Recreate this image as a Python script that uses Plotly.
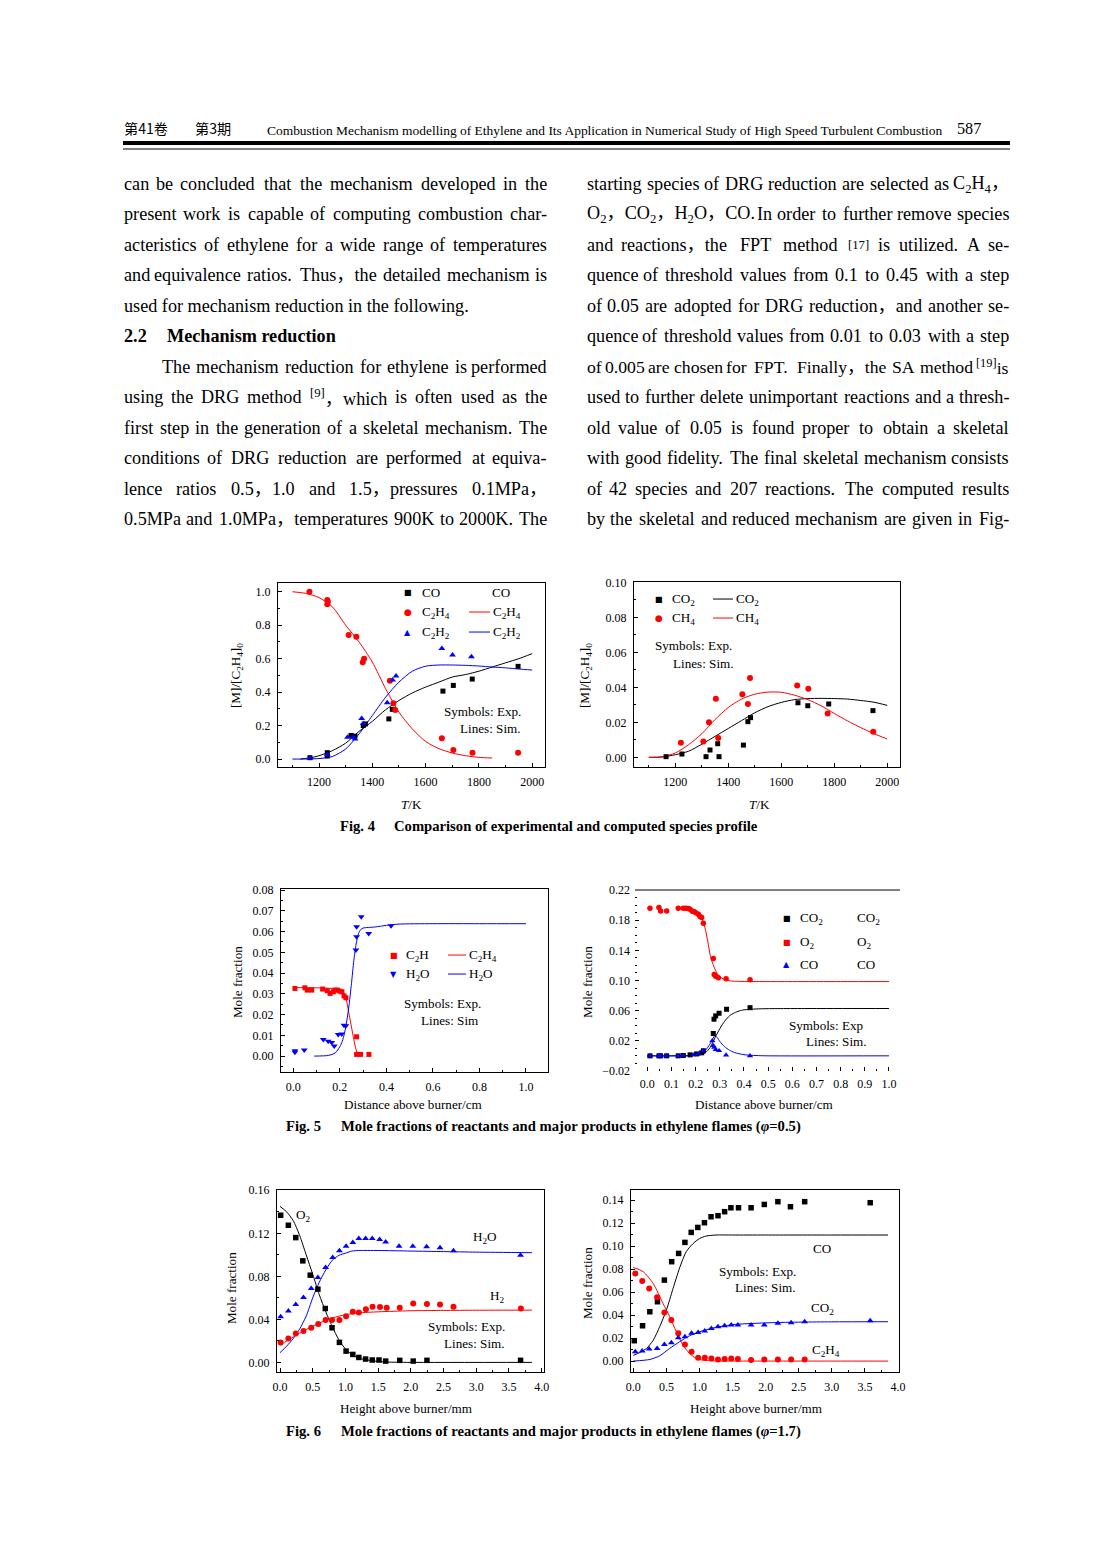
import re
import plotly.graph_objects as go

PW, PH = 1102, 1546          # page (window) size
OX, OY = 8, 8                # browser body margin
FW, FH = PW - 2 * OX, PH - 2 * OY
# measured mapping of page position -> photographed position (obs = A + B * page)
AX, BX = 5.08, 0.9899
AY, BY = 7.07, 0.9908
FS = 1 / BX
SERIF = "Liberation Serif, Noto Sans CJK SC, Times New Roman, serif"
CJK = "Noto Sans CJK SC"
SYM = "DejaVu Sans"
RED, BLUE, BLACK = "#ff0000", "#0000ff", "#000000"

# ---------------- Fig.4 left: [M]/[C2H4]0 vs T ----------------
p1_co_T = [1166, 1231, 1231, 1320, 1335, 1366, 1374, 1462, 1475, 1665, 1704, 1775, 1947]
p1_co_v = [0.008, 0.038, 0.018, 0.141, 0.137, 0.20, 0.21, 0.24, 0.297, 0.406, 0.44, 0.478, 0.554]
p1_c2h4_T = [1164, 1231, 1233, 1231, 1311, 1340, 1364, 1369, 1466, 1479, 1486, 1661, 1704, 1776, 1947]
p1_c2h4_v = [1.0, 0.95, 0.94, 0.925, 0.741, 0.731, 0.578, 0.60, 0.468, 0.333, 0.293, 0.124, 0.054, 0.038, 0.038]
p1_c2h2_T = [1166, 1231, 1307, 1329, 1335, 1360, 1366, 1456, 1476, 1489, 1661, 1701, 1772]
p1_c2h2_v = [0.008, 0.025, 0.13, 0.13, 0.12, 0.243, 0.213, 0.337, 0.472, 0.496, 0.661, 0.622, 0.612]
p1_co_sim_T = [1130, 1170, 1200, 1250, 1300, 1350, 1400, 1450, 1500, 1550, 1600, 1650, 1700, 1750, 1800, 1850, 1900, 1950, 2000]
p1_co_sim = [0.0, 0.008, 0.02, 0.05, 0.095, 0.165, 0.225, 0.295, 0.35, 0.395, 0.43, 0.46, 0.49, 0.505, 0.525, 0.55, 0.575, 0.60, 0.63]
p1_c2h4_sim_T = [1100, 1150, 1200, 1250, 1300, 1350, 1400, 1450, 1500, 1550, 1600, 1650, 1700, 1750, 1800, 1850]
p1_c2h4_sim = [1.0, 0.99, 0.965, 0.91, 0.80, 0.70, 0.58, 0.42, 0.28, 0.18, 0.105, 0.062, 0.036, 0.02, 0.01, 0.006]
p1_c2h2_sim_T = [1100, 1150, 1200, 1250, 1300, 1350, 1400, 1450, 1500, 1550, 1600, 1650, 1700, 1750, 1800, 1850, 1900, 1950, 2000]
p1_c2h2_sim = [0.0, 0.0, 0.003, 0.015, 0.06, 0.15, 0.26, 0.37, 0.46, 0.525, 0.555, 0.562, 0.562, 0.56, 0.556, 0.55, 0.545, 0.538, 0.532]

# ---------------- Fig.4 right ----------------
p2_co2_T = [1165, 1225, 1316, 1331, 1360, 1365, 1457, 1474, 1484, 1663, 1700, 1779, 1946]
p2_co2_v = [0.0004, 0.0019, 0.0004, 0.0042, 0.0078, 0.0004, 0.007, 0.0204, 0.0227, 0.0312, 0.0295, 0.0305, 0.0267]
p2_ch4_T = [1221, 1306, 1327, 1353, 1362, 1453, 1474, 1482, 1660, 1702, 1775, 1947]
p2_ch4_v = [0.0084, 0.009, 0.020, 0.0335, 0.011, 0.036, 0.0305, 0.0453, 0.0411, 0.0392, 0.0251, 0.0147]
p2_sim_T = [1100, 1150, 1200, 1250, 1300, 1350, 1400, 1450, 1500, 1550, 1600, 1650, 1700, 1750, 1800, 1850, 1900, 1950, 2000]
p2_ch4_sim = [0.0, 0.0003, 0.0025, 0.0072, 0.0135, 0.0216, 0.0285, 0.0333, 0.0361, 0.0373, 0.0372, 0.0355, 0.033, 0.0295, 0.0251, 0.0208, 0.017, 0.0135, 0.0105]
p2_co2_sim = [0.0, 0.0002, 0.0015, 0.0035, 0.0075, 0.012, 0.0165, 0.021, 0.0255, 0.029, 0.0314, 0.033, 0.0336, 0.0337, 0.0336, 0.0333, 0.0325, 0.0315, 0.0297]

# ---------------- Fig.5 left ----------------
p3_c2h_x = [0.007, 0.05, 0.06, 0.079, 0.126, 0.146, 0.158, 0.172, 0.179, 0.189, 0.20, 0.209, 0.218, 0.226, 0.272, 0.272, 0.289, 0.325]
p3_c2h_v = [0.0326, 0.0329, 0.0318, 0.0318, 0.0323, 0.0315, 0.0302, 0.031, 0.0318, 0.0318, 0.0313, 0.031, 0.029, 0.0281, 0.0093, 0.0008, 0.0008, 0.0008]
p3_h2o_x = [0.007, 0.007, 0.047, 0.129, 0.15, 0.165, 0.176, 0.193, 0.208, 0.218, 0.226, 0.269, 0.272, 0.272, 0.292, 0.324, 0.42]
p3_h2o_v = [0.0026, 0.0018, 0.0029, 0.008, 0.0072, 0.0066, 0.0048, 0.0104, 0.0106, 0.0149, 0.0146, 0.0511, 0.0575, 0.0623, 0.0672, 0.0591, 0.0628]
p3_c2h_sim_x = [0.0, 0.05, 0.1, 0.15, 0.2, 0.21, 0.22, 0.23, 0.24, 0.25, 0.26, 0.27, 0.28]
p3_c2h_sim = [0.033, 0.033, 0.0329, 0.0327, 0.0323, 0.0315, 0.030, 0.026, 0.020, 0.014, 0.008, 0.003, 0.0003]
p3_h2o_sim_x = [0.09, 0.15, 0.18, 0.2, 0.21, 0.22, 0.23, 0.24, 0.25, 0.26, 0.27, 0.28, 0.29, 0.30, 0.35, 0.40, 0.45, 0.6, 0.8, 1.0]
p3_h2o_sim = [0.0, 0.0003, 0.0015, 0.0045, 0.007, 0.011, 0.017, 0.025, 0.035, 0.046, 0.054, 0.059, 0.061, 0.0617, 0.0622, 0.063, 0.0636, 0.0638, 0.0638, 0.0638]

# ---------------- Fig.5 right ----------------
p4_o2_x = [0.011, 0.048, 0.055, 0.08, 0.128, 0.149, 0.16, 0.17, 0.177, 0.186, 0.193, 0.201, 0.211, 0.218, 0.225, 0.232, 0.273, 0.277, 0.283, 0.294, 0.326, 0.425]
p4_o2_v = [0.1958, 0.1967, 0.1923, 0.1923, 0.1958, 0.1958, 0.1958, 0.1955, 0.1945, 0.192, 0.1914, 0.19, 0.188, 0.1848, 0.1835, 0.176, 0.129, 0.108, 0.1057, 0.1035, 0.1022, 0.1009]
p4_co2_x = [0.011, 0.048, 0.055, 0.08, 0.128, 0.149, 0.177, 0.204, 0.225, 0.232, 0.273, 0.276, 0.283, 0.297, 0.328, 0.425]
p4_co2_v = [0.0, 0.0, 0.0, 0.0, 0.0, 0.0005, 0.0013, 0.0025, 0.004, 0.0067, 0.0297, 0.0486, 0.053, 0.0565, 0.0618, 0.0639]
p4_co_x = [0.011, 0.048, 0.055, 0.08, 0.128, 0.149, 0.19, 0.211, 0.232, 0.269, 0.273, 0.277, 0.283, 0.297, 0.326, 0.425]
p4_co_v = [0.0, 0.0, 0.0, 0.0, 0.0, 0.0005, 0.0012, 0.0025, 0.007, 0.020, 0.0134, 0.0112, 0.0081, 0.0068, 0.001, 0.0]
p4_o2_sim_x = [0.135, 0.17, 0.19, 0.21, 0.22, 0.23, 0.24, 0.25, 0.26, 0.27, 0.28, 0.29, 0.30, 0.32, 0.35, 0.40, 0.6, 0.8, 1.0]
p4_o2_sim = [0.196, 0.1945, 0.192, 0.187, 0.184, 0.179, 0.168, 0.152, 0.134, 0.123, 0.115, 0.109, 0.105, 0.101, 0.0992, 0.0987, 0.0985, 0.0985, 0.0985]
p4_co2_sim_x = [0.0, 0.1, 0.2, 0.22, 0.24, 0.26, 0.28, 0.30, 0.32, 0.34, 0.36, 0.38, 0.40, 0.45, 0.5, 0.7, 1.0]
p4_co2_sim = [0.0, 0.0, 0.0005, 0.0015, 0.004, 0.011, 0.024, 0.036, 0.046, 0.053, 0.057, 0.0595, 0.061, 0.0622, 0.0626, 0.0628, 0.0628]
p4_co_sim_x = [0.0, 0.1, 0.2, 0.22, 0.24, 0.26, 0.27, 0.28, 0.29, 0.30, 0.32, 0.34, 0.36, 0.40, 0.45, 0.5, 1.0]
p4_co_sim = [0.0, 0.0, 0.0005, 0.002, 0.007, 0.016, 0.022, 0.027, 0.024, 0.019, 0.012, 0.0075, 0.0045, 0.0015, 0.0004, 0.0, 0.0]

# ---------------- Fig.6 left ----------------
p5_o2_x = [0.01, 0.128, 0.241, 0.349, 0.462, 0.579, 0.692, 0.795, 0.908, 1.01, 1.113, 1.205, 1.308, 1.41, 1.513, 1.615, 1.83, 2.036, 2.246, 3.677]
p5_o2_v = [0.1368, 0.1275, 0.116, 0.0944, 0.0811, 0.0681, 0.0501, 0.0322, 0.0186, 0.0105, 0.0074, 0.0046, 0.0031, 0.0022, 0.0022, 0.0012, 0.0019, 0.0012, 0.0019, 0.0019]
p5_h2o_x = [0.01, 0.128, 0.241, 0.359, 0.477, 0.579, 0.697, 0.805, 0.908, 1.01, 1.113, 1.205, 1.308, 1.41, 1.523, 1.615, 1.82, 2.03, 2.241, 2.446, 2.651, 3.677]
p5_h2o_v = [0.0424, 0.0477, 0.0538, 0.0603, 0.0687, 0.0789, 0.0882, 0.0975, 0.1037, 0.108, 0.1114, 0.1151, 0.1151, 0.1151, 0.1142, 0.112, 0.108, 0.108, 0.1074, 0.1065, 0.1037, 0.0997]
p5_h2_x = [0.01, 0.128, 0.241, 0.359, 0.477, 0.585, 0.697, 0.795, 0.908, 1.01, 1.113, 1.205, 1.313, 1.415, 1.528, 1.631, 1.83, 2.036, 2.246, 2.446, 2.651, 3.682]
p5_h2_v = [0.0186, 0.0223, 0.0269, 0.0291, 0.0322, 0.0356, 0.0393, 0.0393, 0.0393, 0.043, 0.047, 0.0464, 0.0495, 0.0517, 0.0514, 0.0508, 0.0508, 0.0548, 0.0542, 0.0539, 0.0517, 0.0502]
p5_o2_sim_x = [0.0, 0.1, 0.2, 0.3, 0.4, 0.5, 0.6, 0.7, 0.8, 0.9, 1.0, 1.1, 1.2, 1.4, 1.6, 1.8, 2.0, 3.85]
p5_o2_sim = [0.145, 0.14, 0.132, 0.118, 0.1, 0.082, 0.063, 0.047, 0.033, 0.021, 0.0125, 0.0072, 0.004, 0.0016, 0.0004, 0.0001, 0.0, 0.0]
p5_h2o_sim_x = [0.0, 0.1, 0.2, 0.3, 0.4, 0.5, 0.6, 0.7, 0.8, 0.9, 1.0, 1.1, 1.2, 1.5, 2.0, 2.5, 3.0, 3.85]
p5_h2o_sim = [0.009, 0.015, 0.022, 0.031, 0.043, 0.060, 0.0745, 0.086, 0.095, 0.0995, 0.1015, 0.1035, 0.104, 0.104, 0.1035, 0.103, 0.1025, 0.102]
p5_h2_sim_x = [0.0, 0.2, 0.4, 0.6, 0.8, 1.0, 1.2, 1.5, 2.0, 2.5, 3.0, 3.85]
p5_h2_sim = [0.016, 0.0235, 0.0305, 0.0365, 0.0413, 0.0443, 0.046, 0.047, 0.048, 0.0483, 0.0485, 0.0486]

# ---------------- Fig.6 right ----------------
p6_co_x = [0.015, 0.14, 0.25, 0.365, 0.47, 0.58, 0.685, 0.78, 0.875, 0.975, 1.075, 1.175, 1.28, 1.38, 1.475, 1.59, 1.78, 1.98, 2.185, 2.375, 2.59, 3.58]
p6_co_v = [0.0177, 0.0307, 0.0429, 0.0516, 0.0704, 0.0864, 0.0936, 0.1032, 0.1119, 0.1162, 0.1203, 0.1255, 0.1264, 0.1299, 0.1333, 0.1333, 0.1333, 0.1362, 0.1386, 0.1342, 0.1386, 0.1377]
p6_c2h4_x = [0.03, 0.135, 0.24, 0.36, 0.47, 0.575, 0.68, 0.78, 0.88, 0.98, 1.08, 1.18, 1.28, 1.38, 1.48, 1.58, 1.78, 1.98, 2.185, 2.385, 2.59]
p6_c2h4_v = [0.0762, 0.0696, 0.0632, 0.0554, 0.0423, 0.0357, 0.0241, 0.0145, 0.0081, 0.0029, 0.0029, 0.0023, 0.0014, 0.0017, 0.0023, 0.0017, 0.0009, 0.0014, 0.0014, 0.0014, 0.0014]
p6_co2_x = [0.03, 0.135, 0.24, 0.36, 0.47, 0.575, 0.68, 0.78, 0.88, 0.98, 1.08, 1.18, 1.28, 1.38, 1.48, 1.58, 1.78, 1.98, 2.185, 2.385, 2.59, 3.58]
p6_co2_v = [0.0081, 0.0087, 0.0104, 0.011, 0.0145, 0.0159, 0.0203, 0.0212, 0.0241, 0.0249, 0.0261, 0.0284, 0.0299, 0.0307, 0.0313, 0.0313, 0.0313, 0.0313, 0.0328, 0.0333, 0.0342, 0.0351]
p6_co_sim_x = [0.0, 0.1, 0.2, 0.3, 0.4, 0.5, 0.6, 0.7, 0.8, 0.9, 1.0, 1.1, 1.25, 1.5, 2.0, 3.0, 3.85]
p6_co_sim = [0.005, 0.0075, 0.011, 0.018, 0.03, 0.0443, 0.063, 0.081, 0.0951, 0.102, 0.1065, 0.1087, 0.1096, 0.1096, 0.1096, 0.1096, 0.1096]
p6_c2h4_sim_x = [0.0, 0.15, 0.3, 0.45, 0.55, 0.65, 0.75, 0.85, 0.95, 1.05, 1.2, 1.5, 2.0, 3.0, 3.85]
p6_c2h4_sim = [0.0814, 0.0777, 0.0675, 0.0501, 0.0386, 0.0255, 0.0139, 0.0067, 0.0023, 0.0008, 0.0002, 0.0, 0.0, 0.0, 0.0]
p6_co2_sim_x = [0.0, 0.25, 0.4, 0.55, 0.7, 0.85, 1.05, 1.3, 1.55, 2.05, 2.55, 3.0, 3.85]
p6_co2_sim = [0.0, 0.0014, 0.0046, 0.011, 0.0168, 0.022, 0.0264, 0.0299, 0.0319, 0.0333, 0.0339, 0.0341, 0.0342]

# ---------------- page text ----------------
left_lines = [
    "can be concluded that the mechanism developed in the",
    "present work is capable of computing combustion char-",
    "acteristics of ethylene for a wide range of temperatures",
    "and equivalence ratios. Thus，the detailed mechanism is",
]
left_last = "used for mechanism reduction in the following."
left_lines2 = [
    "using the DRG method <sup>[9]</sup>，which is often used as the",
    "first step in the generation of a skeletal mechanism. The",
    "conditions of DRG reduction are performed at equiva-",
    "lence ratios 0.5，1.0 and 1.5，pressures 0.1MPa，",
    "0.5MPa and 1.0MPa，temperatures 900K to 2000K. The",
]
para_first = "The mechanism reduction for ethylene is performed"
right_lines = [
    "starting species of DRG reduction are selected as C<sub>2</sub>H<sub>4</sub>，",
    "O<sub>2</sub>，CO<sub>2</sub>，H<sub>2</sub>O，CO. In order to further remove species",
    "and reactions，the FPT method <sup>[17]</sup> is utilized. A se-",
    "quence of threshold values from 0.1 to 0.45 with a step",
    "of 0.05 are adopted for DRG reduction，and another se-",
    "quence of threshold values from 0.01 to 0.03 with a step",
    "of 0.005 are chosen for FPT. Finally，the SA method <sup>[19]</sup>is",
    "used to further delete unimportant reactions and a thresh-",
    "old value of 0.05 is found proper to obtain a skeletal",
    "with good fidelity. The final skeletal mechanism consists",
    "of 42 species and 207 reactions. The computed results",
    "by the skeletal and reduced mechanism are given in Fig-",
]
line_y = [184, 214, 245, 275, 306, 336, 367, 397, 428, 458, 489, 519]

fig = go.Figure()


def px(x):
    return ((x - AX) / BX - OX) / FW


def py(y):
    return 1 - ((y - AY) / BY - OY) / FH


annotations = []
shapes = []


def ann(x, y, text, size=13, xanchor="left", yanchor="middle", color=BLACK, family=SERIF, angle=0):
    annotations.append(dict(x=px(x), y=py(y), xref="paper", yref="paper", text=text, showarrow=False,
                            xanchor=xanchor, yanchor=yanchor, textangle=angle, borderpad=0,
                            font=dict(family=family, size=round(size * FS, 2), color=color)))


def hline(x0, x1, y, color=BLACK, width=1):
    shapes.append(dict(type="line", xref="paper", yref="paper", x0=px(x0), x1=px(x1), y0=py(y), y1=py(y),
                       line=dict(color=color, width=width)))


CW = {}
for c in "ijl.,;:'!|": CW[c] = 0.278
for c in "ftr-[]()": CW[c] = 0.333
for c in "s": CW[c] = 0.389
for c in "acez": CW[c] = 0.444
for c in "mM": CW[c] = 0.80
for c in "wW": CW[c] = 0.75
CW["，"] = 1.0
CW["I"] = 0.333


def cw(c):
    if c in CW:
        return CW[c]
    if c.isupper():
        return 0.69
    return 0.5


def em_width(word):
    total = 0.0
    for part in re.split(r"(<su[bp]>.*?</su[bp]>)", word):
        if part.startswith("<su"):
            inner = re.sub(r"<[^>]+>", "", part)
            total += 0.7 * sum(cw(c) for c in inner)
        else:
            total += sum(cw(c) for c in part)
    return total


BODY = 18


def justified(line, y, left, right, size=BODY):
    words = line.split(" ")
    n = len(words)
    ems = [em_width(w) for w in words]
    min_gap = 4.0
    if sum(ems) * size + min_gap * (n - 1) > right - left:
        size = (right - left - min_gap * (n - 1)) / sum(ems)
    widths = [e * size for e in ems]
    gap = (right - left - sum(widths)) / (n - 1)
    xpos = left
    for i, w in enumerate(words):
        if i == 0:
            ann(left, y, w, size)
        elif i == n - 1:
            ann(right, y, w, size, xanchor="right")
        else:
            ann(xpos + widths[i] / 2, y, w, size, xanchor="center")
        xpos += widths[i] + gap


LX0, LX1 = 123, 548
RX0, RX1 = 586, 1010
for i, l in enumerate(left_lines):
    justified(l, line_y[i], LX0, LX1)
ann(LX0, line_y[4], left_last, BODY)
ann(LX0, line_y[5], "<b>2.2</b>", BODY)
ann(166, line_y[5], "<b>Mechanism reduction</b>", BODY)
justified(para_first, line_y[6], 161, LX1)
for i, l in enumerate(left_lines2):
    justified(l, line_y[7 + i], LX0, LX1)
for i, l in enumerate(right_lines):
    justified(l, line_y[i], RX0, RX1)

# header
ann(123, 128, "第41卷", 14, family=CJK)
ann(194, 128, "第3期", 14, family=CJK)
ann(266, 130, "Combustion Mechanism modelling of Ethylene and Its Application in Numerical Study of High Speed Turbulent Combustion", 13.3)
ann(956, 128, "587", 16)
hline(123, 1010, 143, width=4)
hline(123, 1010, 149, width=1)

# captions
ann(339, 826, "<b>Fig. 4</b>", 14.5)
ann(393, 826, "<b>Comparison of experimental and computed species profile</b>", 14.5)
ann(285, 1126, "<b>Fig. 5</b>", 14.5)
ann(340, 1126, "<b>Mole fractions of reactants and major products in ethylene flames (<i>φ</i>=0.5)</b>", 14.5)
ann(285, 1431, "<b>Fig. 6</b>", 14.5)
ann(340, 1431, "<b>Mole fractions of reactants and major products in ethylene flames (<i>φ</i>=1.7)</b>", 14.5)

# ---------------- axes ----------------
panels = {
    1: dict(L=278, R=545, T=583, B=767, xr=[1046, 2048], yr=[-0.0478, 1.052], xd=200, xm=100, xf="d", yd=0.2, ym=0.1, yf=".1f", y0=0),
    2: dict(L=634, R=900, T=582, B=767, xr=[1044, 2048], yr=[-0.00554, 0.1002], xd=200, xm=100, xf="d", yd=0.02, ym=0.01, yf=".2f", y0=0),
    3: dict(L=281, R=548, T=889, B=1072, xr=[-0.0529, 1.0945], yr=[-0.0077, 0.0805], xd=0.2, xm=0.1, xf=".1f", yd=0.01, ym=0.005, yf=".2f", y0=0),
    4: dict(L=635, R=900, T=889, B=1071, xr=[-0.051, 1.0455], yr=[-0.0202, 0.2213], xd=0.1, xm=0.05, xf=".1f", yd=0.04, ym=0.01, yf=".2f", y0=-0.02),
    5: dict(L=277, R=544, T=1190, B=1372, xr=[-0.046, 4.035], yr=[-0.009, 0.1602], xd=0.5, xm=0.25, xf=".1f", yd=0.04, ym=0.02, yf=".2f", y0=0),
    6: dict(L=631, R=899, T=1190, B=1372, xr=[-0.035, 4.015], yr=[-0.00957, 0.1487], xd=0.5, xm=0.25, xf=".1f", yd=0.02, ym=0.01, yf=".2f", y0=0),
}
layout_axes = {}
for k, p in panels.items():
    sfx = "" if k == 1 else str(k)
    line_on = k != 4
    common = dict(ticks="inside", ticklen=4, tickwidth=1, tickcolor=BLACK, showline=line_on, mirror=line_on,
                  linecolor=BLACK, linewidth=1, showgrid=False, zeroline=False,
                  tickfont=dict(family=SERIF, size=12, color=BLACK), ticklabelstandoff=4)
    layout_axes["xaxis" + sfx] = dict(domain=[px(p["L"]), px(p["R"])], range=p["xr"], dtick=p["xd"], tick0=0,
                                      tickformat=p["xf"], anchor="y" + sfx,
                                      minor=dict(dtick=p["xm"], tick0=0, ticks="inside", ticklen=2, tickcolor=BLACK, showgrid=False),
                                      **common)
    layout_axes["yaxis" + sfx] = dict(domain=[py(p["B"]), py(p["T"])], range=p["yr"], dtick=p["yd"], tick0=p["y0"],
                                      tickformat=p["yf"], anchor="x" + sfx,
                                      minor=dict(dtick=p["ym"], tick0=p["y0"], ticks="inside", ticklen=2, tickcolor=BLACK, showgrid=False),
                                      **common)


def pts(k, x, y, color, symbol, size=5.5):
    sfx = "" if k == 1 else str(k)
    fig.add_trace(go.Scatter(x=x, y=y, mode="markers", xaxis="x" + sfx, yaxis="y" + sfx, showlegend=False,
                             marker=dict(color=color, symbol=symbol, size=size, line=dict(width=0))))


def sim(k, x, y, color):
    sfx = "" if k == 1 else str(k)
    fig.add_trace(go.Scatter(x=x, y=y, mode="lines", xaxis="x" + sfx, yaxis="y" + sfx, showlegend=False,
                             line=dict(color=color, width=1, shape="spline", smoothing=0.7)))


sim(1, p1_co_sim_T, p1_co_sim, BLACK)
sim(1, p1_c2h4_sim_T, p1_c2h4_sim, RED)
sim(1, p1_c2h2_sim_T, p1_c2h2_sim, BLUE)
pts(1, p1_co_T, p1_co_v, BLACK, "square", 5)
pts(1, p1_c2h4_T, p1_c2h4_v, RED, "circle", 6)
pts(1, p1_c2h2_T, p1_c2h2_v, BLUE, "triangle-up", 6)

sim(2, p2_sim_T, p2_co2_sim, BLACK)
sim(2, p2_sim_T, p2_ch4_sim, RED)
pts(2, p2_co2_T, p2_co2_v, BLACK, "square", 5)
pts(2, p2_ch4_T, p2_ch4_v, RED, "circle", 6)

sim(3, p3_c2h_sim_x, p3_c2h_sim, RED)
sim(3, p3_h2o_sim_x, p3_h2o_sim, BLUE)
pts(3, p3_c2h_x, p3_c2h_v, RED, "square", 5)
pts(3, p3_h2o_x, p3_h2o_v, BLUE, "triangle-down", 6)

sim(4, p4_o2_sim_x, p4_o2_sim, RED)
sim(4, p4_co2_sim_x, p4_co2_sim, BLACK)
sim(4, p4_co_sim_x, p4_co_sim, BLUE)
pts(4, p4_o2_x, p4_o2_v, RED, "circle", 5.5)
pts(4, p4_co2_x, p4_co2_v, BLACK, "square", 5)
pts(4, p4_co_x, p4_co_v, BLUE, "triangle-up", 5.5)

sim(5, p5_o2_sim_x, p5_o2_sim, BLACK)
sim(5, p5_h2o_sim_x, p5_h2o_sim, BLUE)
sim(5, p5_h2_sim_x, p5_h2_sim, RED)
pts(5, p5_o2_x, p5_o2_v, BLACK, "square", 5.5)
pts(5, p5_h2o_x, p5_h2o_v, BLUE, "triangle-up", 6)
pts(5, p5_h2_x, p5_h2_v, RED, "circle", 6)

sim(6, p6_co_sim_x, p6_co_sim, BLACK)
sim(6, p6_c2h4_sim_x, p6_c2h4_sim, RED)
sim(6, p6_co2_sim_x, p6_co2_sim, BLUE)
pts(6, p6_co_x, p6_co_v, BLACK, "square", 5.5)
pts(6, p6_c2h4_x, p6_c2h4_v, RED, "circle", 6)
pts(6, p6_co2_x, p6_co2_v, BLUE, "triangle-up", 6)

# top line of fig.5 right panel at 0.22
shapes.append(dict(type="line", xref="x4 domain", yref="y4", x0=0, x1=1, y0=0.22, y1=0.22,
                   line=dict(color=BLACK, width=1)))

# ---------------- legends / labels ----------------
LS = 13


def glyph(x, y, ch, color, size=9):
    ann(x, y, ch, size, xanchor="center", color=color, family=SYM)


def sample(x0, x1, y, color):
    hline(x0, x1, y, color=color, width=1)


# panel 1
glyph(408, 592, "■", BLACK, 8); ann(421, 592, "CO", LS); ann(491, 592, "CO", LS)
glyph(408, 612, "●", RED, 9); ann(421, 612, "C<sub>2</sub>H<sub>4</sub>", LS)
sample(469, 490, 612, RED); ann(492, 612, "C<sub>2</sub>H<sub>4</sub>", LS)
glyph(408, 632, "▲", BLUE, 8); ann(421, 632, "C<sub>2</sub>H<sub>2</sub>", LS)
sample(469, 490, 632, BLUE); ann(492, 632, "C<sub>2</sub>H<sub>2</sub>", LS)
ann(522, 711, "Symbols: Exp.", LS, xanchor="right")
ann(522, 728, "Lines: Sim.", LS, xanchor="right")
ann(412, 804, "<i>T</i>/K", LS, xanchor="center")
ann(236, 675, "[M]/[C<sub>2</sub>H<sub>4</sub>]<sub>0</sub>", LS, xanchor="center", angle=-90)

# panel 2
glyph(659, 599, "■", BLACK, 8); ann(671, 599, "CO<sub>2</sub>", LS)
sample(713, 733, 599, BLACK); ann(735, 599, "CO<sub>2</sub>", LS)
glyph(659, 618, "●", RED, 9); ann(671, 618, "CH<sub>4</sub>", LS)
sample(713, 733, 618, RED); ann(735, 618, "CH<sub>4</sub>", LS)
ann(654, 645, "Symbols: Exp.", LS)
ann(672, 663, "Lines: Sim.", LS)
ann(760, 804, "<i>T</i>/K", LS, xanchor="center")
ann(585, 675, "[M]/[C<sub>2</sub>H<sub>4</sub>]<sub>0</sub>", LS, xanchor="center", angle=-90)

# panel 3
glyph(394, 955, "■", RED, 8); ann(405, 955, "C<sub>2</sub>H", LS)
sample(448, 466, 955, RED); ann(468, 955, "C<sub>2</sub>H<sub>4</sub>", LS)
glyph(394, 974, "▼", BLUE, 8); ann(405, 974, "H<sub>2</sub>O", LS)
sample(448, 466, 974, BLUE); ann(468, 974, "H<sub>2</sub>O", LS)
ann(403, 1003, "Symbols: Exp.", LS)
ann(420, 1020, "Lines: Sim", LS)
ann(413, 1104, "Distance above burner/cm", LS, xanchor="center")
ann(237, 982, "Mole fraction", LS, xanchor="center", angle=-90)

# panel 4
glyph(787, 918, "■", BLACK, 8); ann(799, 918, "CO<sub>2</sub>", LS); ann(856, 918, "CO<sub>2</sub>", LS)
glyph(787, 942, "■", RED, 8); ann(799, 942, "O<sub>2</sub>", LS); ann(856, 942, "O<sub>2</sub>", LS)
glyph(787, 964, "▲", BLUE, 8); ann(799, 964, "CO", LS); ann(856, 964, "CO", LS)
ann(788, 1025, "Symbols: Exp", LS)
ann(805, 1041, "Lines: Sim.", LS)
ann(764, 1104, "Distance above burner/cm", LS, xanchor="center")
ann(587, 982, "Mole fraction", LS, xanchor="center", angle=-90)

# panel 5
ann(295, 1215, "O<sub>2</sub>", LS)
ann(472, 1237, "H<sub>2</sub>O", LS)
ann(489, 1296, "H<sub>2</sub>", LS)
ann(427, 1326, "Symbols: Exp.", LS)
ann(443, 1343, "Lines: Sim.", LS)
ann(406, 1408, "Height above burner/mm", LS, xanchor="center")
ann(231, 1288, "Mole fraction", LS, xanchor="center", angle=-90)

# panel 6
ann(812, 1248, "CO", LS)
ann(718, 1271, "Symbols: Exp.", LS)
ann(734, 1287, "Lines: Sim.", LS)
ann(810, 1308, "CO<sub>2</sub>", LS)
ann(811, 1350, "C<sub>2</sub>H<sub>4</sub>", LS)
ann(756, 1408, "Height above burner/mm", LS, xanchor="center")
ann(587, 1283, "Mole fraction", LS, xanchor="center", angle=-90)

fig.update_layout(width=FW, height=FH, margin=dict(l=0, r=0, t=0, b=0, pad=0), autosize=False,
                  paper_bgcolor="white", plot_bgcolor="rgba(0,0,0,0)", showlegend=False,
                  annotations=annotations, shapes=shapes,
                  font=dict(family=SERIF, color=BLACK), **layout_axes)

fig.write_html("out.html", config={"displayModeBar": False, "responsive": False})
